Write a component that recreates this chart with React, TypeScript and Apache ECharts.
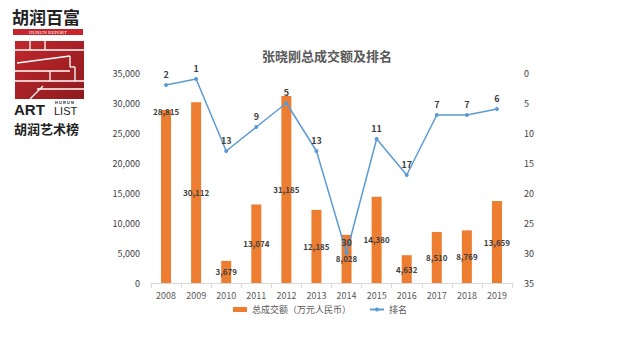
import React, { useEffect, useRef } from "react";
import * as echarts from "echarts";

const years = ["2008", "2009", "2010", "2011", "2012", "2013", "2014", "2015", "2016", "2017", "2018", "2019"];
const turnover = [28815, 30112, 3679, 13074, 31185, 12185, 8028, 14380, 4632, 8510, 8769, 13659];
const ranks = [2, 1, 13, 9, 5, 13, 30, 11, 17, 7, 7, 6];
const barName = "总成交额（万元人民币）";
const lineName = "排名";

export default function App() {
  const ref = useRef<HTMLDivElement>(null);
  useEffect(() => {
    const chart = echarts.init(ref.current!, null, { renderer: "svg" });
    const font = "'Noto Sans CJK SC', 'Noto Sans', sans-serif";
    const logoLines = [
      [[15, 50], [84, 50]],
      [[30, 41], [30, 50]],
      [[45, 41], [45, 50]],
      [[17, 63], [70, 56]],
      [[70, 56], [70, 67]],
      [[70, 67], [75, 67]],
      [[75, 67], [75, 81]],
      [[15, 71], [70, 71]],
      [[50, 71], [50, 81]],
      [[15, 81], [84, 81]],
      [[37, 89], [84, 89]],
      [[30, 99], [43, 86]],
    ];
    chart.setOption({
      animation: false,
      textStyle: { fontFamily: font },
      title: {
        text: "张晓刚总成交额及排名",
        left: 322,
        textAlign: "center",
        top: 44,
        textStyle: { fontSize: 13, fontWeight: "bold", color: "#595959", fontFamily: font },
      },
      legend: {
        bottom: 41,
        left: "center",
        itemWidth: 14,
        itemHeight: 5,
        itemGap: 18,
        textStyle: { fontSize: 9, color: "#595959" },
        data: [
          { name: barName, icon: "rect" },
          { name: lineName },
        ],
      },
      grid: { left: 151, right: 128, top: 73, bottom: 77 },
      xAxis: {
        type: "category",
        data: years,
        axisLine: { lineStyle: { color: "#d9d9d9" } },
        axisTick: { show: true, lineStyle: { color: "#d9d9d9" } },
        axisLabel: { fontSize: 9, color: "#595959", margin: 8 },
      },
      yAxis: [
        {
          type: "value",
          min: 0,
          max: 35000,
          interval: 5000,
          splitLine: { show: false },
          axisLabel: {
            fontSize: 9,
            color: "#404040",
            margin: 11,
            formatter: (v: number) => v.toLocaleString("en-US"),
          },
        },
        {
          type: "value",
          inverse: true,
          min: 0,
          max: 35,
          interval: 5,
          splitLine: { show: false },
          axisLabel: { fontSize: 9, color: "#404040", margin: 12 },
        },
      ],
      series: [
        {
          name: barName,
          type: "bar",
          barWidth: 10,
          itemStyle: { color: "#ED7D31" },
          label: {
            show: true,
            position: "inside",
            fontSize: 8,
            color: "#404040",
            fontWeight: "bold",
            formatter: (p: any) => Number(p.value).toLocaleString("en-US"),
          },
          data: turnover.map((v, i) =>
            i === 0 ? { value: v, label: { position: "insideTop", distance: -3 } } : v
          ),
        },
        {
          name: lineName,
          type: "line",
          yAxisIndex: 1,
          symbol: "circle",
          symbolSize: 4,
          lineStyle: { color: "#5B9BD5", width: 1.5 },
          itemStyle: { color: "#5B9BD5" },
          label: {
            show: true,
            position: "top",
            fontSize: 9,
            fontWeight: "bold",
            color: "#404040",
            distance: 4,
          },
          data: ranks,
        },
      ],
      graphic: [
        {
          type: "text",
          left: 12,
          top: 8,
          style: { text: "胡润百富", font: "bold 17px 'Noto Sans CJK SC'", fill: "#222" },
        },
        { type: "rect", shape: { x: 13, y: 29, width: 70, height: 6 }, style: { fill: "#C8242B" } },
        {
          type: "text",
          x: 48,
          y: 32,
          style: {
            text: "HURUN REPORT",
            font: "5px 'Liberation Serif'",
            fill: "#fff",
            align: "center",
            verticalAlign: "middle",
          },
        },
        {
          type: "rect",
          shape: { x: 15, y: 41, width: 69, height: 58 },
          style: {
            fill: new echarts.graphic.LinearGradient(0, 0, 1, 1, [
              { offset: 0, color: "#C0272D" },
              { offset: 1, color: "#8E1B1E" },
            ]),
          },
        },
        ...logoLines.map((l) => ({
          type: "line",
          shape: { x1: l[0][0], y1: l[0][1], x2: l[1][0], y2: l[1][1] },
          style: { stroke: "#fff", lineWidth: 1.3 },
        })),
        {
          type: "text",
          x: 14,
          y: 109,
          style: {
            text: "ART",
            font: "bold 15px 'Liberation Sans'",
            lineHeight: 14,
            verticalAlign: "middle",
            fill: "#222",
          },
        },
        {
          type: "text",
          x: 55,
          y: 102,
          style: {
            text: "H U R U N",
            font: "bold 4px 'Liberation Sans'",
            lineHeight: 4,
            verticalAlign: "middle",
            fill: "#222",
          },
        },
        {
          type: "text",
          x: 54,
          y: 111,
          style: {
            text: "LIST",
            font: "11px 'Liberation Sans'",
            lineHeight: 10,
            verticalAlign: "middle",
            fill: "#222",
          },
        },
        {
          type: "text",
          x: 14,
          y: 128,
          style: {
            text: "胡润艺术榜",
            font: "bold 13px 'Noto Sans CJK SC'",
            lineHeight: 13,
            verticalAlign: "middle",
            fill: "#222",
          },
        },
        {
          type: "text",
          right: 18,
          bottom: 8,
          style: {
            text: "www.huajia.cc",
            font: "bold 10px 'DejaVu Sans'",
            fill: "#fff",
            shadowColor: "rgba(0,0,0,0.6)",
            shadowBlur: 2,
            shadowOffsetX: 1,
            shadowOffsetY: 1,
          },
        },
      ],
    });
    return () => chart.dispose();
  }, []);
  return <div ref={ref} style={{ width: 640, height: 360, position: "absolute", left: 0, top: 0 }} />;
}
